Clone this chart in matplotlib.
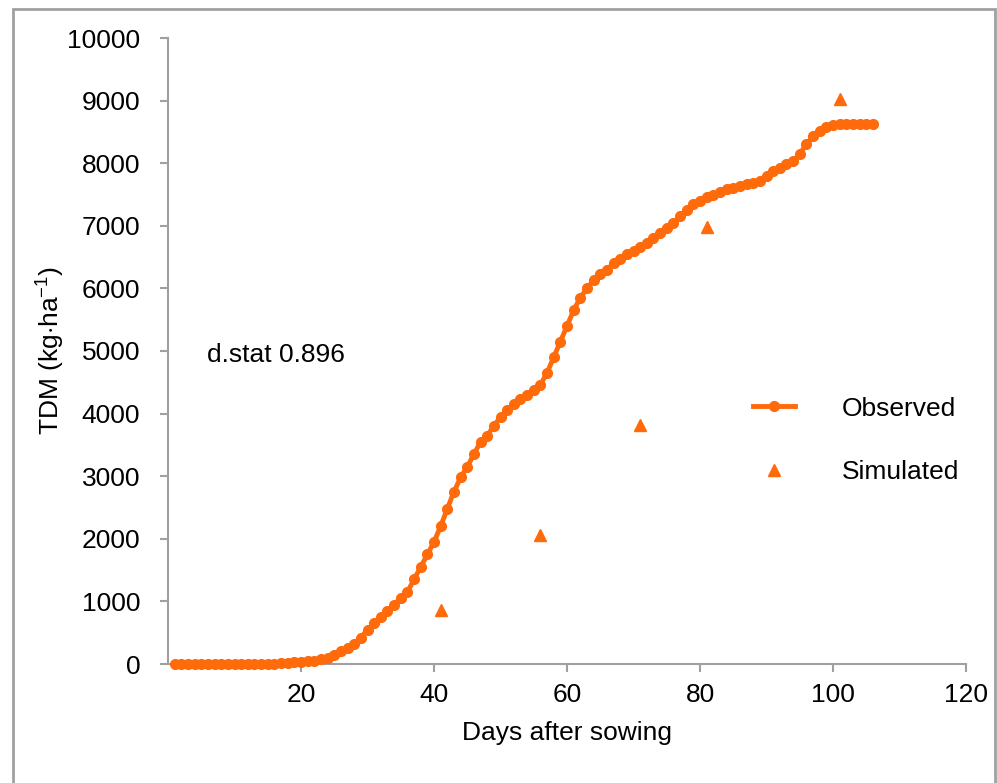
import matplotlib
matplotlib.use("Agg")
import matplotlib.pyplot as plt
from matplotlib.patches import Rectangle
from matplotlib.lines import Line2D

plt.rcParams['font.family'] = ['Liberation Sans', 'DejaVu Sans']
plt.rcParams['mathtext.fontset'] = 'custom'
plt.rcParams['mathtext.rm'] = 'Liberation Sans'
plt.rcParams['mathtext.it'] = 'Liberation Sans:italic'

# Observed TDM (kg/ha), daily from day 1 to 106
obs_days = list(range(1, 107))
obs_tdm = [0, 0, 0, 0, 0, 0, 0, 0, 0, 0,
           0, 0, 0, 0, 0, 5, 10, 20, 25, 30,
           40, 55, 75, 100, 150, 200, 250, 320, 420, 550,
           650, 750, 850, 950, 1050, 1150, 1350, 1550, 1750, 1950,
           2200, 2480, 2750, 2980, 3150, 3350, 3550, 3650, 3800, 3950,
           4050, 4150, 4230, 4300, 4380, 4460, 4650, 4900, 5150, 5400,
           5650, 5850, 6000, 6130, 6230, 6300, 6400, 6470, 6550, 6600,
           6660, 6730, 6800, 6880, 6970, 7050, 7150, 7250, 7350, 7400,
           7460, 7500, 7540, 7580, 7610, 7640, 7660, 7690, 7720, 7800,
           7880, 7930, 7980, 8030, 8150, 8300, 8430, 8520, 8580, 8610,
           8620, 8620, 8620, 8620, 8620, 8620]

# Simulated TDM
sim_days = [41, 56, 71, 81, 101]
sim_tdm = [870, 2060, 3820, 6980, 9020]

x_ticks = [20, 40, 60, 80, 100, 120]
y_ticks = list(range(0, 10001, 1000))

ORANGE = '#FF6A0A'
GRAY = '#A0A0A0'
FS = 19

fig = plt.figure(figsize=(9.97, 7.83), dpi=100)
ax = fig.add_axes([168/997, 1-664/783, (966-168)/997, (664-38)/783])

ax.plot(obs_days, obs_tdm, color=ORANGE, lw=3.5, marker='o', ms=7,
        mec=ORANGE, mfc=ORANGE, clip_on=False, zorder=3)
ax.plot(sim_days, sim_tdm, ls='none', marker='^', ms=8.5, color=ORANGE,
        clip_on=False, zorder=3)

ax.set_xlim(0, 120)
ax.set_ylim(0, 10000)
ax.set_xticks(x_ticks)
ax.set_yticks(y_ticks)
for s in ['top', 'right']:
    ax.spines[s].set_visible(False)
for s in ['left', 'bottom']:
    ax.spines[s].set_color(GRAY)
    ax.spines[s].set_linewidth(1.5)
ax.tick_params(axis='both', colors=GRAY, width=1.5, length=6,
               labelcolor='black', labelsize=FS)
ax.tick_params(axis='x', pad=8)
ax.tick_params(axis='y', pad=14)

ax.set_xlabel('Days after sowing', fontsize=FS, labelpad=10)
ax.set_ylabel('TDM (kg$\\cdot$ha$^{-1}$)', fontsize=FS, labelpad=0)

ax.text(5.9, 4936, 'd.stat 0.896', fontsize=FS, ha='left', va='center')

handles = [Line2D([], [], color=ORANGE, lw=3.5, marker='o', ms=7),
           Line2D([], [], color=ORANGE, ls='none', marker='^', ms=8.5)]
ax.legend(handles, ['Observed', 'Simulated'], frameon=False, fontsize=FS,
          loc='center left', bbox_to_anchor=(753/997, 1-440.5/783),
          bbox_transform=fig.transFigure, borderpad=0, borderaxespad=0,
          handlelength=1.6, handletextpad=1.75, labelspacing=1.5)

fig.patches.append(Rectangle((12.5/997, -0.05), (994.5-12.5)/997, 1.05-8.5/783,
                             transform=fig.transFigure, fill=False,
                             edgecolor=GRAY, lw=2))

fig.savefig('out.png', dpi=100)
